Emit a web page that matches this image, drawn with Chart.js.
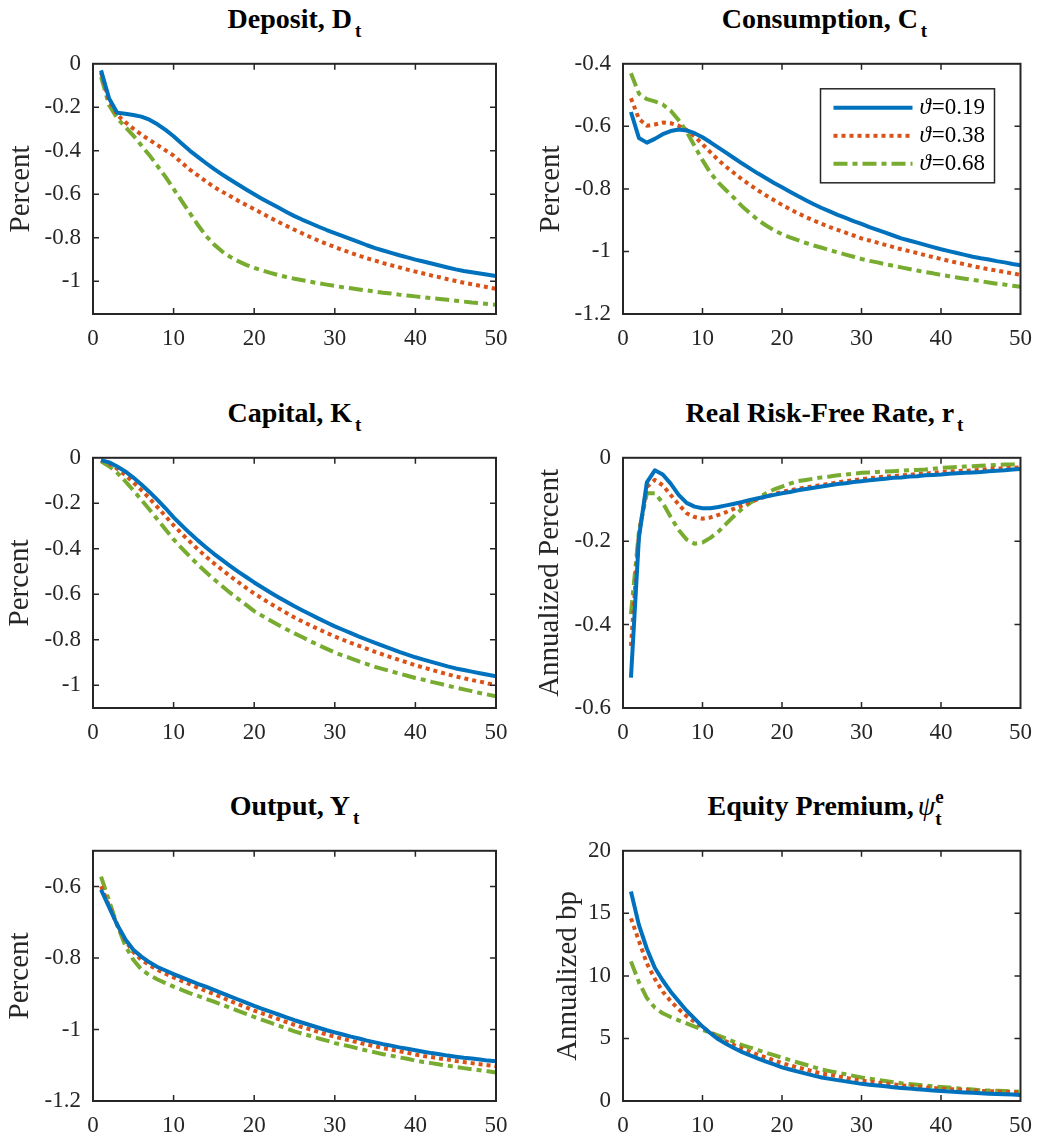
<!DOCTYPE html>
<html><head><meta charset="utf-8">
<script src="https://cdn.jsdelivr.net/npm/chart.js@4/dist/chart.umd.min.js"></script>
<style>
html,body{margin:0;padding:0;background:#fff;}
#wrap{position:relative;width:1043px;height:1141px;overflow:hidden;background:#fff;}
canvas{position:absolute;}
.ttl{position:absolute;width:403px;text-align:center;font-family:'Liberation Serif','Times New Roman',serif;font-weight:bold;font-size:28px;line-height:28px;color:#000;white-space:nowrap;}
.sb{font-size:19px;position:relative;top:9px;margin-left:3px;}
.sp{font-size:19px;position:relative;top:-12px;}
.sb2{font-size:19px;position:relative;top:10px;margin-left:-8.5px;}
.psi{font-weight:normal;font-style:italic;margin-left:4px;}
</style></head><body>
<div id="wrap">
<div class="ttl" style="left:93px;top:5px;">Deposit, D<span class="sb">t</span></div>
<div class="ttl" style="left:623px;top:5px;">Consumption, C<span class="sb">t</span></div>
<div class="ttl" style="left:93px;top:399px;">Capital, K<span class="sb">t</span></div>
<div class="ttl" style="left:623px;top:399px;">Real Risk-Free Rate, r<span class="sb">t</span></div>
<div class="ttl" style="left:93px;top:792px;">Output, Y<span class="sb">t</span></div>
<div class="ttl" style="left:623px;top:792px;">Equity Premium,<span class="psi">ψ</span><span class="sp">e</span><span class="sb2">t</span></div>
</div>
<script>
const periods = [1,2,3,4,5,6,7,8,9,10,11,12,13,14,15,16,17,18,19,20,21,22,23,24,25,26,27,28,29,30,31,32,33,34,35,36,37,38,39,40,41,42,43,44,45,46,47,48,49,50];
const seriesLabels = ['ϑ=0.19','ϑ=0.38','ϑ=0.68'];
const xTicks = [0,10,20,30,40,50];

const depositLow = [-0.03,-0.16,-0.225,-0.23,-0.235,-0.243,-0.257,-0.278,-0.304,-0.333,-0.366,-0.399,-0.428,-0.456,-0.483,-0.508,-0.532,-0.555,-0.578,-0.6,-0.621,-0.641,-0.661,-0.681,-0.7,-0.717,-0.733,-0.749,-0.764,-0.778,-0.792,-0.806,-0.82,-0.834,-0.847,-0.858,-0.869,-0.88,-0.89,-0.9,-0.909,-0.918,-0.927,-0.936,-0.945,-0.952,-0.958,-0.964,-0.97,-0.976];
const depositMid = [-0.04,-0.17,-0.235,-0.268,-0.298,-0.325,-0.35,-0.374,-0.398,-0.422,-0.454,-0.486,-0.513,-0.54,-0.566,-0.587,-0.608,-0.629,-0.649,-0.668,-0.688,-0.708,-0.727,-0.745,-0.763,-0.78,-0.797,-0.813,-0.828,-0.842,-0.856,-0.869,-0.882,-0.894,-0.905,-0.916,-0.926,-0.936,-0.946,-0.955,-0.964,-0.973,-0.981,-0.99,-0.998,-1.006,-1.013,-1.02,-1.027,-1.034];
const depositHigh = [-0.06,-0.19,-0.25,-0.29,-0.33,-0.375,-0.42,-0.47,-0.52,-0.575,-0.63,-0.685,-0.74,-0.79,-0.83,-0.862,-0.887,-0.907,-0.924,-0.938,-0.95,-0.961,-0.971,-0.98,-0.988,-0.995,-1.002,-1.009,-1.015,-1.021,-1.027,-1.032,-1.037,-1.042,-1.047,-1.052,-1.056,-1.061,-1.065,-1.069,-1.073,-1.077,-1.081,-1.085,-1.089,-1.093,-1.097,-1.1,-1.104,-1.108];

const consLow = [-0.554,-0.637,-0.652,-0.64,-0.625,-0.615,-0.61,-0.613,-0.622,-0.635,-0.651,-0.668,-0.685,-0.702,-0.719,-0.735,-0.751,-0.766,-0.781,-0.795,-0.809,-0.823,-0.836,-0.849,-0.861,-0.872,-0.883,-0.893,-0.903,-0.912,-0.922,-0.931,-0.94,-0.949,-0.958,-0.965,-0.972,-0.979,-0.986,-0.993,-0.999,-1.005,-1.011,-1.017,-1.022,-1.026,-1.031,-1.035,-1.04,-1.044];
const consMid = [-0.51,-0.576,-0.598,-0.594,-0.588,-0.59,-0.598,-0.612,-0.632,-0.657,-0.683,-0.708,-0.73,-0.75,-0.77,-0.788,-0.805,-0.821,-0.836,-0.851,-0.865,-0.878,-0.89,-0.901,-0.912,-0.922,-0.931,-0.94,-0.949,-0.958,-0.965,-0.972,-0.979,-0.986,-0.993,-0.999,-1.005,-1.012,-1.018,-1.024,-1.03,-1.036,-1.041,-1.047,-1.052,-1.057,-1.061,-1.066,-1.07,-1.075];
const consHigh = [-0.43,-0.495,-0.513,-0.52,-0.53,-0.55,-0.58,-0.617,-0.663,-0.708,-0.749,-0.78,-0.805,-0.83,-0.856,-0.878,-0.9,-0.917,-0.932,-0.945,-0.955,-0.964,-0.973,-0.981,-0.988,-0.996,-1.003,-1.01,-1.017,-1.024,-1.03,-1.035,-1.041,-1.046,-1.051,-1.056,-1.061,-1.066,-1.07,-1.075,-1.079,-1.083,-1.087,-1.091,-1.095,-1.099,-1.103,-1.106,-1.11,-1.113];

const capLow = [-0.01,-0.02,-0.038,-0.06,-0.087,-0.117,-0.15,-0.185,-0.222,-0.262,-0.297,-0.331,-0.363,-0.393,-0.422,-0.449,-0.475,-0.5,-0.524,-0.548,-0.57,-0.592,-0.613,-0.633,-0.653,-0.671,-0.689,-0.707,-0.724,-0.741,-0.756,-0.771,-0.786,-0.8,-0.814,-0.827,-0.84,-0.853,-0.865,-0.877,-0.887,-0.897,-0.907,-0.917,-0.926,-0.933,-0.94,-0.947,-0.954,-0.961];
const capMid = [-0.01,-0.025,-0.048,-0.076,-0.108,-0.142,-0.178,-0.217,-0.257,-0.297,-0.333,-0.368,-0.402,-0.434,-0.464,-0.492,-0.52,-0.546,-0.572,-0.597,-0.619,-0.641,-0.662,-0.682,-0.702,-0.72,-0.737,-0.754,-0.77,-0.786,-0.8,-0.814,-0.827,-0.84,-0.853,-0.865,-0.877,-0.889,-0.9,-0.912,-0.922,-0.932,-0.942,-0.952,-0.961,-0.969,-0.977,-0.984,-0.992,-0.999];
const capHigh = [-0.015,-0.037,-0.066,-0.103,-0.143,-0.185,-0.227,-0.271,-0.315,-0.359,-0.397,-0.434,-0.469,-0.502,-0.534,-0.564,-0.593,-0.62,-0.647,-0.674,-0.695,-0.715,-0.735,-0.754,-0.772,-0.789,-0.807,-0.824,-0.84,-0.856,-0.869,-0.882,-0.895,-0.907,-0.919,-0.929,-0.939,-0.949,-0.958,-0.968,-0.976,-0.985,-0.993,-1.002,-1.01,-1.018,-1.026,-1.034,-1.041,-1.049];

const rateLow = [-0.527,-0.192,-0.059,-0.03,-0.04,-0.062,-0.089,-0.108,-0.117,-0.121,-0.121,-0.118,-0.114,-0.11,-0.106,-0.101,-0.097,-0.093,-0.089,-0.085,-0.082,-0.078,-0.075,-0.072,-0.069,-0.066,-0.063,-0.061,-0.058,-0.056,-0.054,-0.052,-0.05,-0.048,-0.047,-0.045,-0.044,-0.042,-0.041,-0.04,-0.038,-0.037,-0.036,-0.035,-0.034,-0.032,-0.031,-0.03,-0.028,-0.027];
const rateMid = [-0.451,-0.184,-0.07,-0.053,-0.066,-0.089,-0.112,-0.133,-0.142,-0.146,-0.143,-0.137,-0.13,-0.122,-0.114,-0.106,-0.099,-0.093,-0.087,-0.082,-0.078,-0.074,-0.071,-0.068,-0.065,-0.062,-0.059,-0.056,-0.054,-0.051,-0.049,-0.047,-0.045,-0.044,-0.042,-0.041,-0.039,-0.038,-0.036,-0.034,-0.033,-0.032,-0.031,-0.03,-0.029,-0.027,-0.026,-0.025,-0.024,-0.023];
const rateHigh = [-0.375,-0.177,-0.085,-0.085,-0.108,-0.142,-0.173,-0.196,-0.206,-0.203,-0.192,-0.177,-0.158,-0.139,-0.122,-0.108,-0.097,-0.085,-0.076,-0.069,-0.062,-0.056,-0.053,-0.05,-0.047,-0.045,-0.042,-0.04,-0.038,-0.036,-0.035,-0.034,-0.033,-0.032,-0.031,-0.03,-0.029,-0.028,-0.026,-0.024,-0.023,-0.022,-0.021,-0.02,-0.019,-0.018,-0.017,-0.016,-0.016,-0.015];

const outLow = [-0.609,-0.658,-0.707,-0.747,-0.777,-0.796,-0.812,-0.825,-0.835,-0.845,-0.854,-0.863,-0.872,-0.88,-0.889,-0.898,-0.907,-0.916,-0.925,-0.934,-0.942,-0.95,-0.958,-0.966,-0.974,-0.981,-0.988,-0.995,-1.002,-1.008,-1.014,-1.02,-1.025,-1.031,-1.036,-1.041,-1.045,-1.05,-1.054,-1.058,-1.062,-1.066,-1.069,-1.073,-1.076,-1.079,-1.081,-1.084,-1.087,-1.089];
const outMid = [-0.599,-0.654,-0.707,-0.751,-0.783,-0.805,-0.82,-0.833,-0.844,-0.854,-0.864,-0.873,-0.883,-0.892,-0.901,-0.91,-0.92,-0.929,-0.938,-0.947,-0.955,-0.963,-0.971,-0.979,-0.987,-0.994,-1.0,-1.007,-1.014,-1.02,-1.026,-1.031,-1.037,-1.042,-1.047,-1.052,-1.056,-1.061,-1.065,-1.07,-1.074,-1.077,-1.081,-1.084,-1.088,-1.091,-1.094,-1.097,-1.1,-1.103];
const outHigh = [-0.572,-0.64,-0.707,-0.765,-0.805,-0.832,-0.848,-0.86,-0.87,-0.88,-0.889,-0.898,-0.906,-0.914,-0.922,-0.931,-0.939,-0.948,-0.956,-0.965,-0.973,-0.981,-0.989,-0.997,-1.005,-1.012,-1.018,-1.025,-1.031,-1.038,-1.043,-1.048,-1.054,-1.059,-1.064,-1.069,-1.073,-1.078,-1.082,-1.087,-1.091,-1.094,-1.098,-1.101,-1.105,-1.108,-1.111,-1.114,-1.117,-1.12];

const eqLow = [16.75,14.08,12.17,10.65,9.63,8.74,7.98,7.22,6.58,5.95,5.42,4.93,4.55,4.22,3.91,3.64,3.39,3.15,2.92,2.69,2.52,2.35,2.19,2.03,1.88,1.77,1.67,1.57,1.47,1.37,1.3,1.23,1.17,1.1,1.04,0.99,0.94,0.89,0.84,0.79,0.75,0.72,0.68,0.65,0.61,0.58,0.56,0.53,0.51,0.48];
const eqMid = [14.6,12.8,11.0,9.76,8.74,7.98,7.34,6.78,6.33,5.9,5.47,5.06,4.76,4.46,4.17,3.93,3.7,3.47,3.24,3.02,2.85,2.68,2.52,2.35,2.19,2.08,1.97,1.85,1.74,1.63,1.55,1.48,1.4,1.33,1.25,1.2,1.15,1.09,1.04,0.99,0.95,0.92,0.88,0.85,0.81,0.79,0.76,0.74,0.71,0.69];
const eqHigh = [11.16,9.5,8.23,7.47,7.01,6.71,6.45,6.2,5.95,5.69,5.46,5.23,4.98,4.72,4.47,4.27,4.06,3.86,3.66,3.46,3.27,3.08,2.9,2.71,2.52,2.39,2.26,2.14,2.01,1.88,1.79,1.7,1.6,1.51,1.42,1.36,1.3,1.24,1.18,1.12,1.07,1.02,0.96,0.91,0.86,0.84,0.81,0.79,0.76,0.74];

const depositTicks = [-1,-0.8,-0.6,-0.4,-0.2,0];
const consTicks = [-1.2,-1,-0.8,-0.6,-0.4];
const capTicks = [-1,-0.8,-0.6,-0.4,-0.2,0];
const rateTicks = [-0.6,-0.4,-0.2,0];
const outTicks = [-1.2,-1,-0.8,-0.6];
const eqTicks = [0,5,10,15,20];

const seriesColors = ['#0072BD','#D95319','#77AC30'];
const seriesDash = [[],[4,4],[14,5,5,5]];
const FONT = "'Liberation Serif', 'Times New Roman', serif";
const AXC = '#262626';
Chart.defaults.font.family = FONT;
Chart.defaults.font.size = 23;
Chart.defaults.color = AXC;

const frameTicks = {
  id:'frameTicks',
  afterDatasetsDraw(chart){
    const {ctx, chartArea:a, scales:{x,y}} = chart;
    const L = 6;
    ctx.save();
    ctx.setLineDash([]);
    ctx.strokeStyle = AXC; ctx.lineWidth = 1.5;
    ctx.beginPath();
    x.ticks.forEach(t=>{const p=x.getPixelForValue(t.value); if(p<=a.left+1||p>=a.right-1) return;
      ctx.moveTo(p,a.bottom); ctx.lineTo(p,a.bottom-L); ctx.moveTo(p,a.top); ctx.lineTo(p,a.top+L);});
    y.ticks.forEach(t=>{const p=y.getPixelForValue(t.value); if(p<=a.top+1||p>=a.bottom-1) return;
      ctx.moveTo(a.left,p); ctx.lineTo(a.left+L,p); ctx.moveTo(a.right,p); ctx.lineTo(a.right-L,p);});
    ctx.stroke();
    ctx.lineWidth = 2;
    ctx.strokeRect(a.left,a.top,a.right-a.left,a.bottom-a.top);
    ctx.restore();
  }
};

const insideLegend = {
  id:'insideLegend',
  afterDraw(chart){
    const {ctx, chartArea:a} = chart;
    const bw=174, bh=94, bx=a.right-26-bw, by=a.top+25;
    ctx.save();
    ctx.fillStyle='#fff'; ctx.fillRect(bx,by,bw,bh);
    ctx.strokeStyle=AXC; ctx.lineWidth=1.5; ctx.setLineDash([]); ctx.strokeRect(bx,by,bw,bh);
    chart.data.datasets.forEach((ds,i)=>{
      const cy = by+19+i*28;
      ctx.beginPath(); ctx.setLineDash(ds.borderDash||[]); ctx.strokeStyle=ds.borderColor; ctx.lineWidth=ds.borderWidth;
      ctx.moveTo(bx+13,cy); ctx.lineTo(bx+92,cy); ctx.stroke();
      ctx.setLineDash([]);
      ctx.fillStyle='#000'; ctx.textBaseline='middle'; ctx.textAlign='left';
      const sym = ds.label.slice(0,1), rest = ds.label.slice(1);
      ctx.font = 'italic 23px ' + FONT; ctx.fillText(sym,bx+99,cy);
      const w = ctx.measureText(sym).width;
      ctx.font = '23px ' + FONT; ctx.fillText(rest,bx+99+w+1,cy);
    });
    ctx.restore();
  }
};

const panels = [
  {left:0,   top:38,  w:520, yW:93,  padR:24, series:[depositLow,depositMid,depositHigh], yMin:-1.15, yMax:0,    yTicks:depositTicks, yTitle:'Percent', tPad:6.5},
  {left:520, top:38,  w:523, yW:103, padR:17, series:[consLow,consMid,consHigh],          yMin:-1.2,  yMax:-0.4, yTicks:consTicks,    yTitle:'Percent', tPad:16.5, legend:true},
  {left:0,   top:432, w:520, yW:93,  padR:24, series:[capLow,capMid,capHigh],             yMin:-1.1,  yMax:0,    yTicks:capTicks,     yTitle:'Percent', tPad:6},
  {left:520, top:432, w:523, yW:103, padR:17, series:[rateLow,rateMid,rateHigh],          yMin:-0.6,  yMax:0,    yTicks:rateTicks,    yTitle:'Annualized Percent', tPad:16},
  {left:0,   top:825, w:520, yW:93,  padR:24, series:[outLow,outMid,outHigh],             yMin:-1.2,  yMax:-0.5, yTicks:outTicks,     yTitle:'Percent', tPad:6},
  {left:520, top:825, w:523, yW:103, padR:17, series:[eqLow,eqMid,eqHigh],                yMin:0,     yMax:20,   yTicks:eqTicks,      yTitle:'Annualized bp', tPad:33.5}
];

const wrap = document.getElementById('wrap');
const fmt = v => String(Math.round(v*10)/10);
const tickFont = {family:FONT, size:23, style:'normal', weight:'normal'};
panels.forEach(p=>{
  const cv = document.createElement('canvas');
  cv.width = p.w; cv.height = 314;
  cv.style.left = p.left+'px'; cv.style.top = p.top+'px';
  cv.style.width = p.w+'px'; cv.style.height = '314px';
  wrap.appendChild(cv);
  new Chart(cv.getContext('2d'), {
    type:'line',
    data:{datasets: p.series.map((vals,i)=>({
      label: seriesLabels[i],
      data: periods.map((t,k)=>({x:t, y:vals[k]})),
      borderColor: seriesColors[i], borderWidth: 4, borderDash: seriesDash[i],
      borderJoinStyle:'round', pointRadius:0, tension:0, fill:false
    }))},
    options:{
      responsive:false, animation:false, devicePixelRatio:1,
      font: tickFont,
      layout:{padding:{left:0, top:14, right:p.padR, bottom:0}},
      plugins:{legend:{display:false}, tooltip:{enabled:false}},
      scales:{
        x:{type:'linear', position:'bottom', min:0, max:50,
           grid:{display:false, drawTicks:false}, border:{display:false},
           ticks:{font:tickFont, color:AXC, padding:11, maxRotation:0, autoSkip:false},
           afterBuildTicks: s=>{ s.ticks = xTicks.map(v=>({value:v})); },
           afterFit: s=>{ s.height = 38; }},
        y:{type:'linear', position:'left', min:p.yMin, max:p.yMax,
           grid:{display:false, drawTicks:false}, border:{display:false},
           ticks:{font:tickFont, color:AXC, padding:12, autoSkip:false, callback: v=>fmt(v)},
           afterBuildTicks: s=>{ s.ticks = p.yTicks.map(v=>({value:v})); },
           afterFit: s=>{ s.width = p.yW; },
           title:{display:true, text:p.yTitle, color:AXC, font:{family:FONT, size:29, lineHeight:1}, padding:{top:p.tPad, bottom:0}}}
      }
    },
    plugins: p.legend ? [frameTicks, insideLegend] : [frameTicks]
  });
});
</script>
</body></html>
